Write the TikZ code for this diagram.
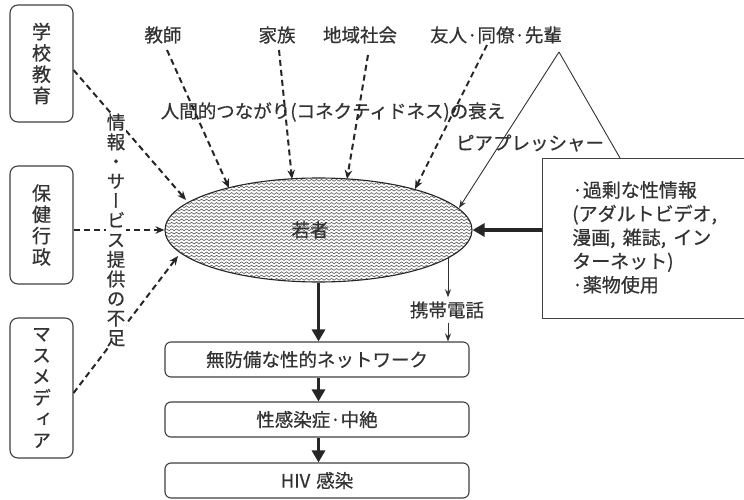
\documentclass[tikz,border=0pt]{standalone}
\usepackage{fontspec}
\setmainfont{Noto Sans CJK JP}[FakeBold=0.6]
\newfontfamily\vjp[RawFeature=+vert,FakeBold=0.6]{Noto Sans CJK JP}
\usetikzlibrary{shapes.geometric,arrows.meta,decorations.pathmorphing}
\begin{document}
\begin{tikzpicture}[x=1pt,y=-1pt,
 lbl/.style={text=black!80, font=\fontsize{18.5}{20}\selectfont, inner sep=0},
 dasharrow/.style={draw=black!85, line width=2, dash pattern=on 6pt off 4pt, -{Stealth[length=9,width=7.5]}},
 thickarrow/.style={draw=black!85, line width=3.2, -{Triangle[length=12,width=13]}},
 thinarrow/.style={draw=black!80, line width=0.9, -{Stealth[length=8,width=6]}},
 lbox/.style={draw=black!75, line width=1.1, rounded corners=8, minimum width=63, text=black!80, align=center, inner sep=0, font=\vjp\fontsize{19}{21.3}\selectfont},
 fbox/.style={draw=black!75, line width=1.1, rounded corners=6, minimum width=304, minimum height=35, text=black!80, inner sep=0, font=\fontsize{18.5}{20}\selectfont}
]
\fill[white] (0,0) rectangle (744,500);
\useasboundingbox (0,0) rectangle (744,500);

% left boxes
\node[lbox, minimum height=117] (school) at (41.5,63.5) {学\\校\\教\\育};
\node[lbox, minimum height=118] (health) at (41.5,225) {保\\健\\行\\政};
\node[lbox, minimum height=140] (media) at (41.5,388) {マ\\ス\\メ\\デ\\ィ\\ア};

% ellipse with wavy fill
\begin{scope}
 \clip (318.5,230) ellipse [x radius=153.5, y radius=52];
 \foreach \yy in {177,180.3,...,285} {
  \draw[black!65, line width=0.6, decorate, decoration={snake,amplitude=0.9,segment length=5}] (160,\yy) -- (480,\yy);
 }
\end{scope}
\node[ellipse, draw=black!85, line width=1.1, minimum width=307, minimum height=104, inner sep=0] (youth) at (318.5,230) {};
\node[lbl] (youthlabel) at (310,230) {若者};

% top labels
\node[lbl] (teacher) at (163,35) {教師};
\node[lbl] (family) at (277,35) {家族};
\node[lbl] (community) at (360,35) {地域社会};
\node[lbl] (friends) at (496,35) {友人·同僚·先輩};
\node[lbl] (decline) at (333,112) {人間的つながり(コネクティドネス)の衰え};
\node[lbl] (peer) at (530,143) {ピアプレッシャー};

% coordinates
\coordinate (s-teacher) at (167,50);
\coordinate (e-teacher) at (229,188);
\coordinate (s-family) at (279,50);
\coordinate (e-family) at (292,179);
\coordinate (s-community) at (368,55);
\coordinate (e-community) at (347,179);
\coordinate (s-friends) at (487,45);
\coordinate (e-friends) at (415,189);
\coordinate (e-school) at (186,200);
\coordinate (e-media) at (178,256);
\coordinate (apex) at (559,52);
\coordinate (e-peer) at (459,208);
\coordinate (boxtop) at (620,158);
\coordinate (e-keitai) at (448,258);

% dashed arrows
\draw[dasharrow] (s-teacher) -- (e-teacher);
\draw[dasharrow] (s-family) -- (e-family);
\draw[dasharrow] (s-community) -- (e-community);
\draw[dasharrow] (s-friends) -- (e-friends);
\draw[dasharrow] ([yshift=-6.5pt]school.east) -- (e-school);
\draw[dasharrow] (health.east |- youth.west) -- (youth.west);
\draw[dasharrow] ([yshift=-5pt]media.east) -- (e-media);

% vertical label
\node[fill=white, inner sep=1, align=center, text=black!80, font=\vjp\fontsize{18.5}{19.6}\selectfont] (lack) at (116,230) {情\\報\\・\\サ\\ー\\ビ\\ス\\提\\供\\の\\不\\足};

% peer pressure triangle
\draw[thinarrow] (apex) -- (e-peer);
\draw[draw=black!80, line width=0.9] (apex) -- (boxtop);

% right box
\node[draw=black!75, line width=1.1, minimum width=210, minimum height=160, anchor=north west, inner sep=0] (info) at (542,158) {};
\node[lbl, anchor=north west, align=left, font=\fontsize{19}{23.7}\selectfont] (infotext) at (572,181) {·過剰な性情報\\(アダルトビデオ,\\漫画,\hspace{3pt} 雑誌,\hspace{3pt} イン\\ターネット)\\·薬物使用};
\draw[thickarrow] (info.west |- youth.east) -- (youth.east);

% lower chain
\node[fbox] (net) at (317,359.5) {無防備な性的ネットワーク};
\node[fbox] (sti) at (317,419.5) {性感染症·中絶};
\node[fbox] (hiv) at (317,480.5) {HIV\hspace{6pt}感染};
\draw[thickarrow] (youth.south) -- (youth.south |- net.north);
\draw[thickarrow] (youth.south |- net.south) -- (youth.south |- sti.north);
\draw[thickarrow] (youth.south |- sti.south) -- (youth.south |- hiv.north);

% mobile phone
\node[lbl, inner sep=4] (keitai) at (447,310) {携帯電話};
\draw[thinarrow] (e-keitai) -- (e-keitai |- keitai.north);
\draw[thinarrow] (e-keitai |- keitai.south) -- (e-keitai |- net.north);
\end{tikzpicture}
\end{document}
